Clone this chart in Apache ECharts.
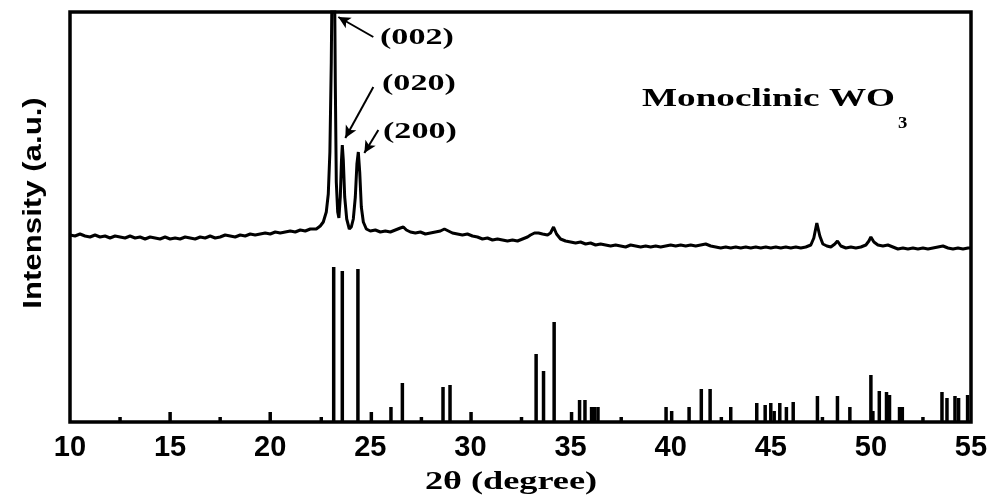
<!DOCTYPE html>
<html>
<head>
<meta charset="utf-8">
<script src="https://cdn.jsdelivr.net/npm/echarts@6/dist/echarts.min.js"></script>
<style>
  html, body { margin: 0; padding: 0; background: #fff; }
  #chart { width: 998px; height: 502px; }
</style>
</head>
<body>
<div id="chart"></div>
<script>
// measured XRD pattern (2theta, intensity a.u.)
var xrdAngle = [
  10.0, 10.25, 10.5, 10.75, 11.0, 11.25, 11.5, 11.75, 12.0, 12.25, 12.5, 12.75,
  13.0, 13.25, 13.5, 13.75, 14.0, 14.25, 14.5, 14.75, 15.0, 15.25, 15.5, 15.75,
  16.0, 16.25, 16.5, 16.75, 17.0, 17.25, 17.5, 17.75, 18.0, 18.25, 18.5, 18.75,
  19.0, 19.25, 19.5, 19.75, 20.0, 20.25, 20.5, 20.75, 21.0, 21.25, 21.5, 21.75,
  22.0, 22.3, 22.5, 22.65, 22.8, 22.9, 22.98, 23.05, 23.1, 23.15, 23.2, 23.25,
  23.3, 23.37, 23.43, 23.5, 23.56, 23.6, 23.65, 23.72, 23.82, 23.95, 24.05, 24.15,
  24.25, 24.33, 24.4, 24.47, 24.55, 24.65, 24.8,
  25.0, 25.25, 25.5, 25.75, 26.0, 26.25, 26.5, 26.65, 26.8, 27.0, 27.25, 27.5,
  27.75, 28.0, 28.25, 28.5, 28.7, 28.9, 29.1, 29.35, 29.6, 29.85, 30.1, 30.35,
  30.6, 30.85, 31.1, 31.35, 31.6, 31.85, 32.1, 32.35, 32.6, 32.85, 33.0, 33.2,
  33.4, 33.6, 33.85, 34.0, 34.15, 34.3, 34.5, 34.75, 35.0, 35.25, 35.5, 35.75,
  36.0, 36.25, 36.5, 36.75, 37.0, 37.25, 37.5, 37.75, 38.0, 38.25, 38.5, 38.75,
  39.0, 39.25, 39.5, 39.75, 40.0, 40.25, 40.5, 40.75, 41.0, 41.25, 41.5, 41.75,
  42.0, 42.25, 42.5, 42.75, 43.0, 43.25, 43.5, 43.75, 44.0, 44.25, 44.5, 44.75,
  45.0, 45.25, 45.5, 45.75, 46.0, 46.25, 46.5, 46.75, 47.0, 47.15, 47.3, 47.45,
  47.6, 47.8, 48.0, 48.2, 48.33, 48.5, 48.75, 49.0, 49.25, 49.5, 49.75, 49.9,
  50.0, 50.15, 50.35, 50.6, 50.85, 51.1, 51.35, 51.6, 51.85, 52.1, 52.35, 52.6,
  52.85, 53.1, 53.35, 53.6, 53.85, 54.1, 54.35, 54.6, 54.85, 55.0
];
var xrdIntensity = [
  187, 186, 188, 186, 185, 187, 185, 186, 184, 186, 185, 184,
  186, 184, 185, 183, 185, 184, 183, 185, 183, 184, 183, 185,
  184, 183, 185, 184, 186, 184, 185, 187, 186, 185, 187, 186,
  188, 187, 188, 189, 188, 190, 189, 190, 191, 190, 192, 191,
  193, 193, 196, 200, 210, 228, 270, 360, 470, 560, 480, 340,
  240, 210, 204, 225, 262, 277, 262, 225, 203, 193, 195, 203,
  225, 258, 270, 250, 215, 200, 193,
  191, 192, 190, 191, 190, 192, 194, 195, 192, 190, 189, 190,
  188, 189, 190, 191, 193, 191, 189, 188, 187, 188, 186, 185,
  183, 184, 182, 183, 182, 181, 182, 181, 183, 185, 187, 189,
  189, 188, 187, 189, 195, 188, 183, 181, 180, 179, 180, 178,
  179, 177, 178, 177, 176, 177, 176, 175, 177, 176, 175, 176,
  175, 176, 175, 176, 177, 176, 177, 176, 177, 176, 177, 178,
  176, 175, 174, 175, 174, 175, 174, 175, 174, 175, 174, 175,
  174, 175, 174, 175, 174, 175, 174, 175, 177, 184, 199, 186,
  178, 176, 175, 178, 181, 176, 174, 175, 174, 175, 177, 181,
  185, 180, 177, 176, 177, 175, 173, 174, 173, 174, 173, 174,
  173, 174, 175, 176, 174, 173, 174, 173, 174, 174
];

// reference pattern (stick lines)
var refAngle = [
  12.5, 15.0, 17.5, 20.0, 22.55, 23.17, 23.6, 24.38, 25.05, 26.03, 26.6, 27.55,
  28.63, 28.98, 30.03, 32.55, 33.28, 33.65, 34.18, 35.05, 35.45, 35.72, 36.05, 36.2,
  36.37, 37.53, 39.77, 40.05, 40.92, 41.53, 41.97, 42.53, 43.0, 44.3, 44.72, 45.0,
  45.17, 45.45, 45.78, 46.12, 47.33, 47.58, 48.33, 48.95, 50.0, 50.1, 50.42, 50.78,
  50.93, 51.43, 51.57, 52.6, 53.55, 53.8, 54.2, 54.38, 54.83
];
var refIntensity = [
  5, 10, 5, 10, 5, 155, 151, 153, 10, 15, 39, 5,
  35, 37, 10, 5, 68, 51, 100, 10, 22, 22, 15, 15,
  15, 5, 15, 11, 15, 33, 33, 5, 15, 19, 17, 19,
  11, 19, 15, 20, 26, 5, 26, 15, 47, 11, 31, 30,
  27, 15, 15, 5, 30, 24, 26, 24, 27
];

var xMin = 10, xMax = 55, xStep = 5;
var peakLabels = ["(002)", "(020)", "(200)"];

var xrdData = xrdAngle.map(function (a, i) { return [a, xrdIntensity[i]]; });
var refData = refAngle.map(function (a, i) { return [a, refIntensity[i]]; });

var chart = echarts.init(document.getElementById("chart"));

var serif = "'Liberation Serif', 'Times New Roman', serif";
var sans = "'Liberation Sans', Arial, sans-serif";

// the original figure has its lettering stretched sideways
function label(text, x, y, size, stretch, extra) {
  var el = {
    type: "text",
    x: x,
    y: y,
    scaleX: stretch,
    style: { text: text, font: "bold " + size + "px " + serif, fill: "#000" },
  };
  return Object.assign(el, extra || {});
}

chart.setOption({
  backgroundColor: "#fff",
  animation: false,
  grid: {
    left: 70,
    right: 27,
    top: 12,
    bottom: 80,
    show: true,
    borderColor: "#000",
    borderWidth: 3.5,
  },
  xAxis: {
    type: "value",
    min: xMin,
    max: xMax,
    interval: xStep,
    axisLine: { show: false },
    axisTick: { show: false },
    splitLine: { show: false },
    axisLabel: {
      margin: 11,
      fontFamily: sans,
      fontWeight: "bold",
      fontSize: 29,
      color: "#000",
    },
  },
  yAxis: {
    type: "value",
    min: 0,
    max: 410,
    axisLine: { show: false },
    axisTick: { show: false },
    axisLabel: { show: false },
    splitLine: { show: false },
  },
  series: [
    {
      name: "WO3",
      type: "line",
      data: xrdData,
      symbol: "none",
      clip: true,
      lineStyle: { color: "#000", width: 3 },
      markLine: {
        silent: true,
        symbol: ["none", "arrow"],
        symbolSize: [9, 12],
        lineStyle: { color: "#000", width: 2, type: "solid" },
        label: { show: false },
        data: [
          [{ coord: [25.15, 385] }, { coord: [23.4, 405] }],
          [{ coord: [25.15, 335] }, { coord: [23.75, 284] }],
          [{ coord: [25.4, 292] }, { coord: [24.7, 269] }],
        ],
      },
    },
    {
      name: "reference",
      type: "bar",
      data: refData,
      barWidth: 3.5,
      itemStyle: { color: "#000" },
    },
  ],
  graphic: [
    label(peakLabels[0], 380, 26, 24, 1.42),
    label(peakLabels[1], 382, 72, 24, 1.42),
    label(peakLabels[2], 383, 120, 24, 1.42),
    label("Monoclinic WO", 642, 86, 26, 1.43),
    label("3", 898, 115, 17, 1.1),
    // x axis title
    label("2θ (degree)", 511, 470, 25, 1.45, {
      style: { text: "2θ (degree)", font: "bold 25px " + serif, fill: "#000", align: "center" },
    }),
    // y axis title
    {
      type: "text",
      x: 34,
      y: 203,
      rotation: Math.PI / 2,
      scaleX: 1.2,
      style: {
        text: "Intensity (a.u.)",
        font: "bold 26px " + sans,
        fill: "#000",
        align: "center",
        verticalAlign: "middle",
      },
    },
  ],
});
</script>
</body>
</html>
